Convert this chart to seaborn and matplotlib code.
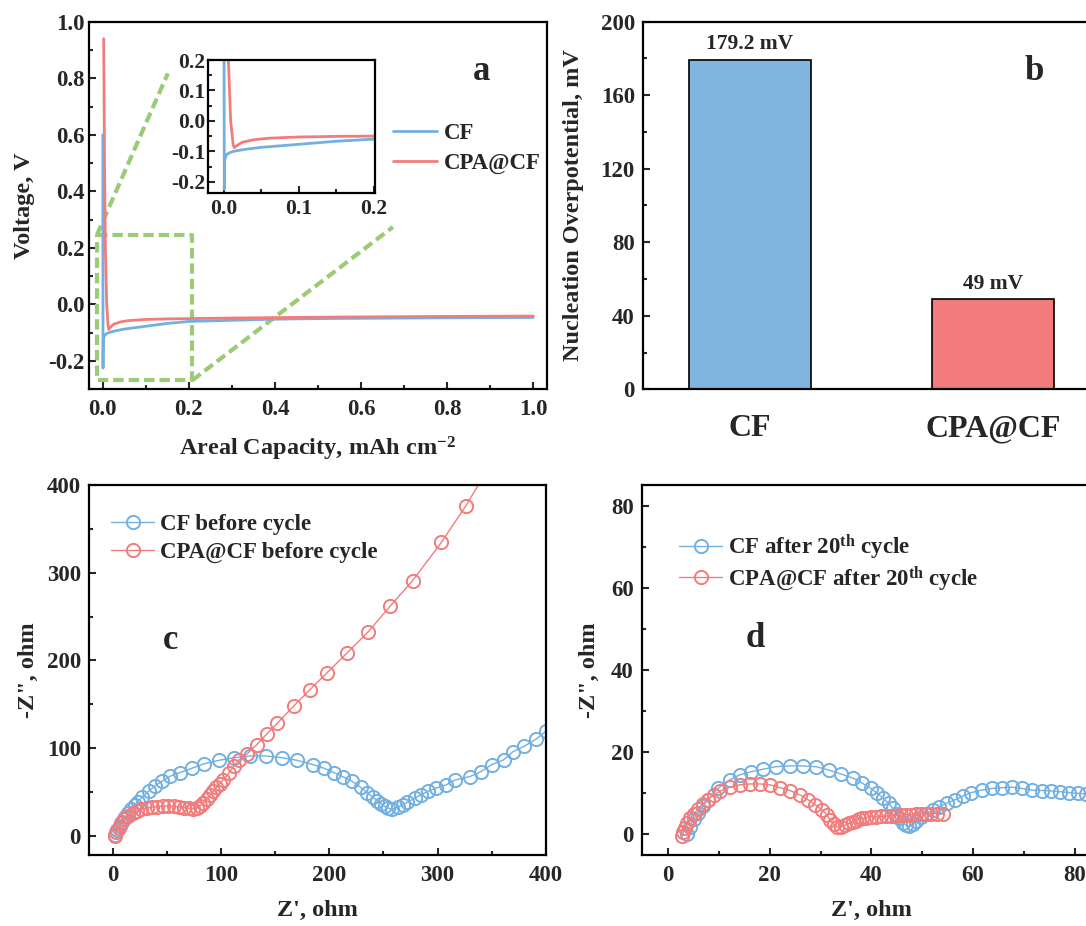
import numpy as np
import pandas as pd
import matplotlib
matplotlib.use('Agg')
import matplotlib.pyplot as plt
from matplotlib.ticker import MultipleLocator
import seaborn as sns

# ---- data ----

# (a) voltage profiles
cap_cf = [0.0, 0.0005, 0.001, 0.003, 0.008, 0.015, 0.03, 0.05, 0.075, 0.1,
          0.15, 0.2, 0.3, 0.4, 0.5, 0.6, 0.8, 1.0]
volt_cf = [0.6, -0.225, -0.13, -0.112, -0.104, -0.099, -0.093, -0.087, -0.082, -0.077,
           -0.067, -0.06, -0.056, -0.052, -0.05, -0.049, -0.047, -0.046]
cap_cpa = [0.002, 0.004, 0.006, 0.009, 0.0125, 0.014, 0.018, 0.025, 0.04, 0.06,
           0.1, 0.15, 0.2, 0.3, 0.5, 0.7, 1.0]
volt_cpa = [0.94, 0.5, 0.2, 0.0, -0.08, -0.088, -0.08, -0.07, -0.062, -0.057,
            -0.053, -0.051, -0.05, -0.048, -0.045, -0.043, -0.041]

# (b) nucleation overpotential
samples = ['CF', 'CPA@CF']
overpot = [179.2, 49]

# (c) EIS before cycling
zre_cf0 = [2, 4, 6, 8, 11, 14, 17, 20, 23, 27, 33, 39, 45, 53, 62, 73, 84, 98, 112, 127,
           141, 156, 170, 185, 195, 204, 213, 221, 229, 235, 240, 244, 248, 251, 254, 258,
           263, 268, 272, 279, 285, 291, 299, 308, 316, 330, 340, 350, 361, 370, 380, 391, 400]
zim_cf0 = [1, 6, 11, 16, 21, 26, 31, 35, 39, 44, 51, 57, 62, 68, 72, 77, 82, 86, 89, 91,
           91, 89, 86, 81, 77, 72, 67, 62, 55, 49, 44, 40, 36.5, 33.5, 31.5, 30.5,
           32.5, 35, 38, 43, 47, 50.5, 54.5, 58, 63.5, 67.5, 73, 81, 86.5, 96, 102, 110, 119]
zre_cpa0 = [2, 3, 5, 7.5, 10, 14, 18, 22, 26, 31, 36, 41, 46, 51, 56, 61, 66, 70, 74, 77.5,
            80.5, 83.5, 86.5, 89.5, 92.5, 95.5, 98.5, 102, 107, 111.5, 116, 124, 133, 142.5,
            152, 167.5, 182, 198, 216, 235.5, 256, 277, 303.5, 326, 350]
zim_cpa0 = [0, 4, 9, 14, 18.5, 22.5, 25.5, 28, 30, 31.5, 32.5, 33.2, 33.8, 33.8, 33.5, 32.8,
            32, 31.2, 30.8, 31.5, 34, 37.5, 41.5, 46, 50.5, 55, 59.5, 64, 71.5, 79, 86, 93.5,
            104, 116.5, 128.5, 148.5, 166.5, 186, 208, 232, 261.5, 291, 334.5, 376, 425]

# (d) EIS after 20th cycle
zre_cf20 = [3.8, 4.3, 5.0, 5.8, 6.8, 7.8, 9.8, 12.1, 14.1, 16.4, 18.7, 21.2, 23.9, 26.5,
            29.1, 31.6, 34.1, 36.4, 38.2, 39.9, 41.2, 42.3, 43.4, 44.2, 44.8, 45.5, 46.2,
            46.8, 47.5, 48.1, 48.8, 49.8, 50.8, 52.1, 53.4, 54.8, 56.4, 58.1, 59.7, 61.7,
            63.7, 65.7, 67.7, 69.6, 71.6, 73.6, 75.3, 77.2, 78.9, 80.6, 82.2, 83.8, 85.4]
zim_cf20 = [0, 1.8, 3.6, 5.2, 6.8, 8.3, 11.1, 13.2, 14.4, 15.2, 15.8, 16.4, 16.6, 16.6,
            16.4, 15.6, 14.6, 13.6, 12.4, 11.1, 9.9, 8.7, 7.5, 6.3, 5.0, 3.8, 2.8,
            2.2, 1.9, 2.4, 3.3, 4.2, 5.0, 5.9, 6.7, 7.5, 8.3, 9.3, 10.1, 10.7,
            11.1, 11.3, 11.4, 11.1, 10.7, 10.6, 10.5, 10.3, 10.1, 9.9, 9.8, 9.7, 9.6]
zre_cpa20 = [2.8, 3.0, 3.3, 3.8, 4.4, 5.1, 5.9, 6.8, 7.8, 9.0, 10.3, 12.1, 14.1, 16.1, 18.1,
             20.0, 22.0, 24.0, 26.0, 27.6, 29.0, 30.3, 31.3, 31.9, 32.6, 33.3, 34.0, 34.8,
             35.6, 36.3, 36.9, 37.6, 38.2, 39.0, 39.9, 40.9, 41.9, 42.9, 43.9, 44.9, 45.8,
             46.8, 47.8, 48.8, 49.8, 50.8, 51.8, 52.9, 54.1]
zim_cpa20 = [-0.5, 0.5, 1.4, 2.6, 3.8, 5.0, 6.2, 7.3, 8.4, 9.5, 10.5, 11.4, 12.0, 12.2, 12.2,
             12.0, 11.3, 10.6, 9.5, 8.3, 7.1, 5.9, 4.6, 3.4, 2.4, 1.7, 1.7, 2.1,
             2.6, 3.0, 3.3, 3.6, 3.8, 4.0, 4.2, 4.2, 4.3, 4.4, 4.4, 4.5, 4.6,
             4.7, 4.7, 4.8, 4.9, 4.9, 5.0, 5.0, 5.0]

BLUE = '#72B0E2'
RED = '#F27C7C'
BAR_BLUE = '#82B5DD'
BAR_RED = '#F27B7B'
GREEN = '#9CCB78'

sns.set_theme(style='ticks')
plt.rcParams['font.family'] = ['Liberation Serif', 'DejaVu Serif']
plt.rcParams['font.weight'] = 'bold'
plt.rcParams['axes.labelweight'] = 'bold'
plt.rcParams['mathtext.fontset'] = 'custom'
plt.rcParams['mathtext.rm'] = 'Liberation Serif:bold'
plt.rcParams['mathtext.bf'] = 'Liberation Serif:bold'
plt.rcParams['mathtext.it'] = 'Liberation Serif:bold'
plt.rcParams['axes.unicode_minus'] = False
plt.rcParams['axes.linewidth'] = 1.6

W, H = 1086, 926
fig = plt.figure(figsize=(W / 100, H / 100), dpi=100)


def px_axes(l, r, t, b):
    return fig.add_axes([l / W, 1 - b / H, (r - l) / W, (b - t) / H])


def style(ax, xmaj, xmin, ymaj, ymin, fs=16.5, ypad=6, xpad=7):
    ax.xaxis.set_major_locator(MultipleLocator(xmaj))
    ax.xaxis.set_minor_locator(MultipleLocator(xmin))
    ax.yaxis.set_major_locator(MultipleLocator(ymaj))
    ax.yaxis.set_minor_locator(MultipleLocator(ymin))
    ax.tick_params(which='both', direction='in', width=1.5, top=False, right=False)
    ax.tick_params(which='major', length=5)
    ax.tick_params(which='minor', length=3)
    ax.tick_params(axis='x', labelsize=fs, pad=xpad)
    ax.tick_params(axis='y', labelsize=fs, pad=ypad)
    for s in ax.spines.values():
        s.set_visible(True)
        s.set_linewidth(1.6)
        s.set_color('black')
    for lab in ax.get_xticklabels() + ax.get_yticklabels():
        lab.set_fontweight('bold')


DASH = (0, (2.5, 1.2))

# ---------------- (a) ----------------
ax_a = px_axes(88.6, 547, 21.7, 389.3)
# zoom-box guides
ax_a.plot([-0.014, 0.208, 0.208, -0.014, -0.014], [0.245, 0.245, -0.268, -0.268, 0.245],
          ls=DASH, color=GREEN, lw=3, zorder=1, clip_on=False)
ax_a.plot([-0.014, 0.151], [0.245, 0.817], ls=DASH, color=GREEN, lw=3, zorder=1)
ax_a.plot([0.208, 0.674], [-0.268, 0.274], ls=DASH, color=GREEN, lw=3, zorder=1)
sns.lineplot(x=cap_cf, y=volt_cf, sort=False, estimator=None, color=BLUE, lw=2,
             label='CF', ax=ax_a, zorder=3)
sns.lineplot(x=cap_cpa, y=volt_cpa, sort=False, estimator=None, color=RED, lw=2,
             label='CPA@CF', ax=ax_a, zorder=3)
ax_a.set_xlim(-0.033, 1.032)
ax_a.set_ylim(-0.3, 1.0)
style(ax_a, 0.2, 0.1, 0.2, 0.1, ypad=3)
ax_a.set_xlabel('Areal Capacity, mAh cm$^{-2}$', fontsize=17.5)
ax_a.set_ylabel('Voltage, V', fontsize=17.5)
ax_a.xaxis.set_label_coords(0.5, -0.125)
ax_a.yaxis.set_label_coords(-0.118, 0.5)
ax_a.legend(loc='upper left', bbox_to_anchor=(0.664, 0.725), frameon=False, fontsize=16.5,
            handlelength=1.9, handletextpad=0.3, borderpad=0, borderaxespad=0,
            labelspacing=0.4)
ax_a.text(0.858, 0.864, 'a', transform=ax_a.transAxes, fontsize=25, fontweight='bold',
          ha='center', va='center')

ins = px_axes(208.2, 375, 60, 193.3)
sns.lineplot(x=cap_cf, y=volt_cf, sort=False, estimator=None, color=BLUE, lw=2, ax=ins)
sns.lineplot(x=cap_cpa, y=volt_cpa, sort=False, estimator=None, color=RED, lw=2, ax=ins)
ins.set_xlim(-0.021, 0.202)
ins.set_ylim(-0.238, 0.2)
style(ins, 0.1, 0.05, 0.1, 0.05, fs=15.5, ypad=2, xpad=4)
ins.set_xlabel('')
ins.set_ylabel('')

# ---------------- (b) ----------------
ax_b = px_axes(643.2, 1100, 21.7, 389.3)
sns.barplot(x=samples, y=overpot, hue=samples, palette=[BAR_BLUE, BAR_RED], legend=False,
            width=0.5, saturation=1, edgecolor='black', linewidth=1.2, ax=ax_b)
ax_b.set_xlim(-0.439, 1.439)
ax_b.set_ylim(0, 200)
style(ax_b, 1, 1, 40, 20)
ax_b.tick_params(axis='x', which='both', length=0, labelsize=23, pad=18)
for lab in ax_b.get_xticklabels():
    lab.set_fontweight('bold')
ax_b.set_ylabel('Nucleation Overpotential, mV', fontsize=17.5)
ax_b.yaxis.set_label_coords(-0.13, 0.5)
for i, v in enumerate(overpot):
    ax_b.text(i, v + 3, f'{v} mV', ha='center', va='bottom', fontsize=15.5, fontweight='bold')
ax_b.text(0.857, 0.864, 'b', transform=ax_b.transAxes, fontsize=25, fontweight='bold',
          ha='center', va='center')

# ---------------- (c) / (d) ----------------
mk = dict(marker='o', markersize=9.5, markerfacecolor='none', markeredgewidth=1.4, lw=1,
          sort=False, estimator=None)

ax_c = px_axes(89.3, 545.7, 485, 855)
sns.lineplot(x=zre_cf0, y=zim_cf0, color=BLUE, markeredgecolor=BLUE,
             label='CF before cycle', ax=ax_c, **mk)
sns.lineplot(x=zre_cpa0, y=zim_cpa0, color=RED, markeredgecolor=RED,
             label='CPA@CF before cycle', ax=ax_c, **mk)
ax_c.set_xlim(-22, 400)
ax_c.set_ylim(-22, 400)
style(ax_c, 100, 50, 100, 50)
ax_c.set_xlabel("Z', ohm", fontsize=17.5)
ax_c.set_ylabel('-Z", ohm', fontsize=17.5)
ax_c.xaxis.set_label_coords(0.5, -0.122)
ax_c.yaxis.set_label_coords(-0.11, 0.5)
ax_c.legend(loc='upper left', bbox_to_anchor=(0.047, 0.922), frameon=False, fontsize=16.5,
            handlelength=1.9, handletextpad=0.25, borderpad=0, borderaxespad=0,
            labelspacing=0.3)
ax_c.text(0.179, 0.581, 'c', transform=ax_c.transAxes, fontsize=25, fontweight='bold',
          ha='center', va='center')

ax_d = px_axes(642.2, 1100, 485, 855)
sns.lineplot(x=zre_cf20, y=zim_cf20, color=BLUE, markeredgecolor=BLUE,
             label='CF after 20$^{th}$ cycle', ax=ax_d, **mk)
sns.lineplot(x=zre_cpa20, y=zim_cpa20, color=RED, markeredgecolor=RED,
             label='CPA@CF after 20$^{th}$ cycle', ax=ax_d, **mk)
ax_d.set_xlim(-5.1, 85)
ax_d.set_ylim(-5.1, 85)
style(ax_d, 20, 10, 20, 10)
ax_d.set_xlabel("Z', ohm", fontsize=17.5)
ax_d.set_ylabel('-Z", ohm', fontsize=17.5)
ax_d.xaxis.set_label_coords(0.5, -0.122)
ax_d.yaxis.set_label_coords(-0.093, 0.5)
ax_d.legend(loc='upper left', bbox_to_anchor=(0.08, 0.872), frameon=False, fontsize=16.5,
            handlelength=1.9, handletextpad=0.25, borderpad=0, borderaxespad=0,
            labelspacing=0.12)
ax_d.text(0.248, 0.586, 'd', transform=ax_d.transAxes, fontsize=25, fontweight='bold',
          ha='center', va='center')

fig.savefig('out.png', dpi=100)
